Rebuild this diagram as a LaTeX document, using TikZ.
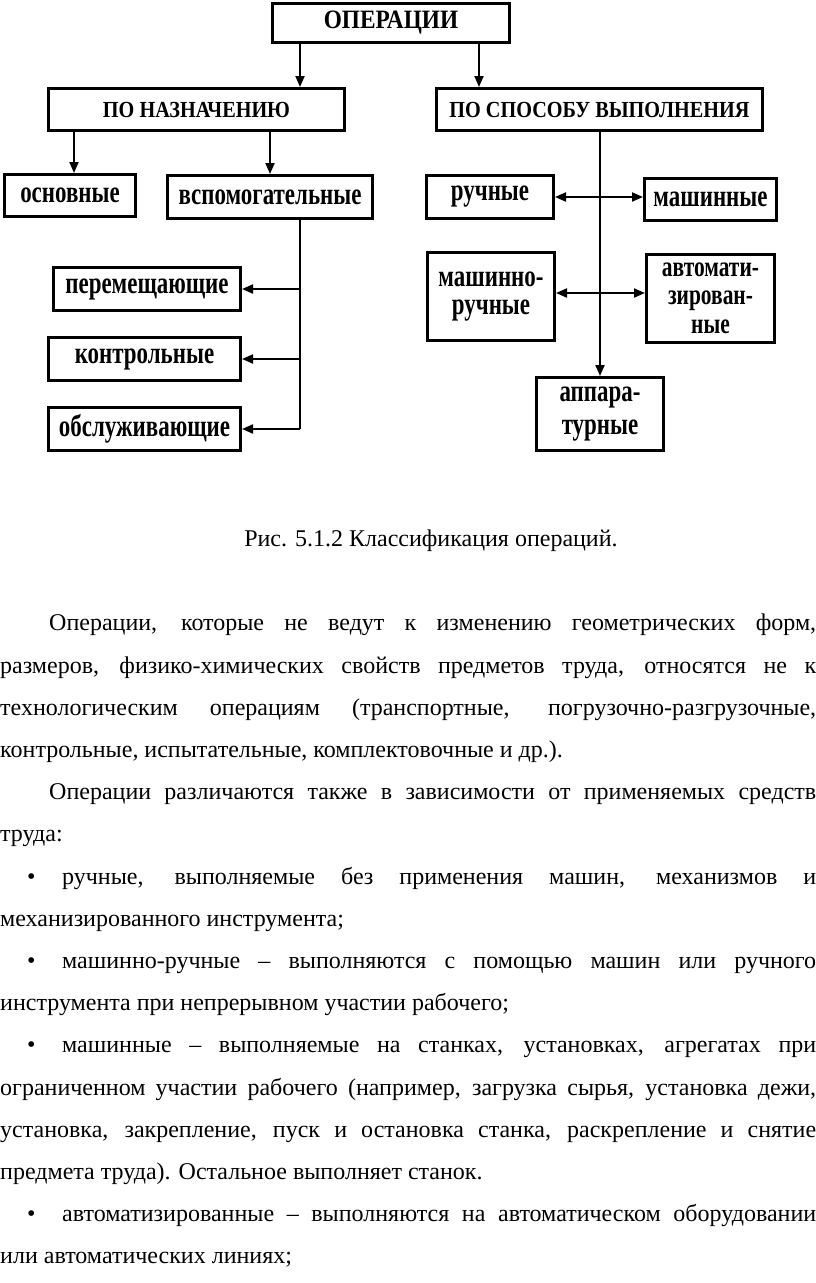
\documentclass[tikz,border=0pt]{standalone}
\usepackage{fontspec}
\setmainfont{Liberation Serif}
\newfontfamily\capfont[FakeStretch=0.88]{Liberation Serif}
\newfontfamily\lowfont[FakeStretch=0.74]{Liberation Serif}
\usetikzlibrary{arrows.meta}
\tikzset{
  opbox/.style={
    rectangle, draw=black, line width=3pt, fill=white, inner sep=2pt,
    font=\lowfont\bfseries\fontsize{31}{28}\selectfont, align=center,
  },
  capbox/.style={
    opbox, font=\capfont\bfseries\fontsize{23}{24}\selectfont,
  },
  arrDown/.style={
    -{Triangle[length=11pt,width=9pt]}, line width=2pt,
  },
  arrBoth/.style={
    {Triangle[length=11pt,width=9pt]}-{Triangle[length=11pt,width=9pt]},
    line width=2pt,
  },
  bodytext/.style={
    anchor=north west, inner sep=0pt, text width=816pt, align=justify,
    font=\fontsize{24}{42.2}\selectfont,
  },
}

\begin{document}
\begin{tikzpicture}[x=1pt, y=-1pt]
\useasboundingbox (0,0) rectangle (816,1283);

% top levels
\node[capbox, minimum width=237, minimum height=39, font=\capfont\bfseries\fontsize{26.5}{26}\selectfont] (ops) at (391,23) {ОПЕРАЦИИ};
\node[capbox, minimum width=296, minimum height=42] (naz) at (196.5,109.5) {ПО НАЗНАЧЕНИЮ};
\node[capbox, minimum width=326, minimum height=42] (spos) at (599.5,109.5) {ПО СПОСОБУ ВЫПОЛНЕНИЯ};

% by purpose
\node[opbox, minimum width=131, minimum height=42] (osn) at (70,195.5) {основные};
\node[opbox, minimum width=205, minimum height=43] (vsp) at (270,197) {вспомогательные};
\node[opbox, minimum width=187, minimum height=43] (perem) at (147,289) {перемещающие};
\node[opbox, minimum width=192, minimum height=43] (kontr) at (144.5,359) {контрольные};
\node[opbox, minimum width=192, minimum height=43] (obsl) at (144.5,429) {обслуживающие};

% by method
\node[opbox, minimum width=127, minimum height=43] (ruch) at (490,197) {ручные};
\node[opbox, minimum width=132, minimum height=42] (mash) at (710.5,199.5) {машинные};
\node[opbox, minimum width=127, minimum height=88] (mruch) at (491,296.5) {машинно-\\ручные};
\node[opbox, minimum width=128, minimum height=88, font=\lowfont\bfseries\fontsize{29}{28.5}\selectfont] (avto) at (710.5,298) {автомати-\\зирован-\\ные};
\node[opbox, minimum width=127, minimum height=73, font=\lowfont\bfseries\fontsize{31}{33}\selectfont] (appar) at (600,414) {аппара-\\турные};

% connectors
\draw[arrDown] (ops.south -| 300,0) -- (naz.north -| 300,0);
\draw[arrDown] (ops.south -| 479,0) -- (spos.north -| 479,0);
\draw[arrDown] (naz.south -| 74,0) -- (osn.north -| 74,0);
\draw[arrDown] (naz.south -| vsp.north) -- (vsp.north);
\draw[line width=2pt] (vsp.south -| 300,0) -- (obsl.east -| 300,0);
\foreach \n in {perem,kontr,obsl}
  \draw[arrDown] (\n.east -| 300,0) -- (\n.east);
\draw[arrDown] (spos.south -| appar.north) -- (appar.north);
\draw[arrBoth] (ruch.east) -- (ruch.east -| mash.west);
\draw[arrBoth] ([yshift=3.5pt]mruch.east) -- ([yshift=3.5pt]mruch.east -| avto.west);

% caption
\node[font=\fontsize{24}{28}\selectfont, inner sep=0pt] (cap) at (431,541) {Рис. 5.1.2 Классификация операций.};

% text below
\node[bodytext] (txt) at (0,614) {\hyphenpenalty=10000 \tolerance=10000 \parindent=0pt
\hspace*{49pt}Операции, которые не ведут к изменению геометрических форм,\linebreak
размеров, физико-химических свойств предметов труда, относятся не к\linebreak
технологическим операциям (транспортные, погрузочно-разгрузочные,\linebreak
контрольные, испытательные, комплектовочные и~др.).\par
\hspace*{49pt}Операции различаются также в зависимости от применяемых средств\linebreak
труда:\par
\hspace*{27pt}\makebox[35pt][l]{•}ручные, выполняемые без применения машин, механизмов и\linebreak
механизированного инструмента;\par
\hspace*{27pt}\makebox[35pt][l]{•}машинно-ручные~– выполняются с помощью машин или ручного\linebreak
инструмента при непрерывном участии рабочего;\par
\hspace*{27pt}\makebox[35pt][l]{•}машинные~– выполняемые на станках, установках, агрегатах при\linebreak
ограниченном участии рабочего (например, загрузка сырья, установка дежи,\linebreak
установка, закрепление, пуск и остановка станка, раскрепление и снятие\linebreak
предмета труда). Остальное выполняет станок.\par
\hspace*{27pt}\makebox[35pt][l]{•}автоматизированные~– выполняются на автоматическом оборудовании\linebreak
или автоматических линиях;\par};
\end{tikzpicture}
\end{document}
